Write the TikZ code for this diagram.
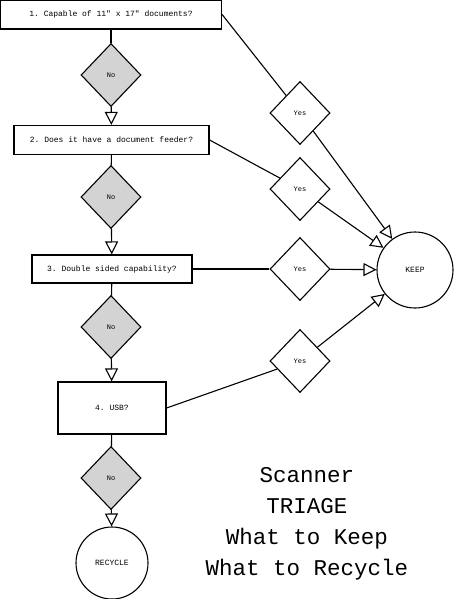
\documentclass[tikz,border=0pt]{standalone}
\usepackage{fontspec}
\setmonofont{Liberation Mono}
\usetikzlibrary{arrows.meta, shapes.geometric}
\definecolor{triageGray}{HTML}{D3D3D3}
\definecolor{lineDark}{HTML}{000000}

\begin{document}
\begin{tikzpicture}[x=1pt, y=-1pt, font=\ttfamily\fontsize{8}{9}\selectfont,
    questionBox/.style={draw=lineDark, line width=1.2pt, fill=white, inner sep=0pt},
    noDiamond/.style={diamond, draw=lineDark, line width=1.1pt, fill=triageGray, inner sep=0pt,
      minimum width=60pt, minimum height=63pt, font=\ttfamily\fontsize{7}{8}\selectfont},
    yesDiamond/.style={noDiamond, fill=white},
    endCircle/.style={circle, draw=lineDark, line width=1.1pt, fill=white, inner sep=0pt},
    flowLine/.style={draw=lineDark, line width=1.1pt},
    flowArrow/.style={flowLine, -{Triangle[open, length=13pt, width=13pt, line width=1.1pt]}}]
    \useasboundingbox (0,0) rectangle (455,599);

    % question column
    \node[questionBox, minimum width=221pt, minimum height=29pt] (q1) at (111,14.5) {1. Capable of 11" x 17" documents?};
    \node[noDiamond] (no1) at (111,75) {No};
    \node[questionBox, minimum width=195pt, minimum height=29pt] (q2) at (111.5,140) {2. Does it have a document feeder?};
    \node[noDiamond] (no2) at (111,197) {No};
    \node[questionBox, minimum width=160pt, minimum height=28pt] (q3) at (112,269) {3. Double sided capability?};
    \node[noDiamond] (no3) at (111,327) {No};
    \node[questionBox, minimum width=108pt, minimum height=52pt] (q4) at (112,408) {4. USB?};
    \node[noDiamond] (no4) at (111,478) {No};
    \node[endCircle, minimum size=72pt] (recycle) at (112,563) {RECYCLE};

    % answer column
    \node[yesDiamond] (yes1) at (300,113) {Yes};
    \node[yesDiamond] (yes2) at (300,189) {Yes};
    \node[yesDiamond] (yes3) at (300,269) {Yes};
    \node[yesDiamond] (yes4) at (300,361) {Yes};
    \node[endCircle, minimum size=76pt] (keep) at (415,270) {KEEP};

    \draw[flowLine] (q1) -- (no1);
    \draw[flowArrow] (no1) -- (q2);
    \draw[flowLine] (q2) -- (no2);
    \draw[flowArrow] (no2) -- (q3);
    \draw[flowLine] (q3) -- (no3);
    \draw[flowArrow] (no3) -- (q4);
    \draw[flowLine] (q4) -- (no4);
    \draw[flowArrow] (no4) -- (recycle);

    \draw[flowLine] (q1.east) -- (yes1);
    \draw[flowArrow] (yes1) -- (keep);
    \draw[flowLine] (q2.east) -- (yes2);
    \draw[flowArrow] (yes2) -- (keep);
    \draw[flowLine] (q3.east) -- (yes3);
    \draw[flowArrow] (yes3) -- (keep);
    \draw[flowLine] (q4.east) -- (yes4);
    \draw[flowArrow] (yes4) -- (keep);

    \node[align=center, font=\ttfamily\fontsize{22.5}{31}\selectfont] (title) at (307,524)
      {Scanner\\TRIAGE\\What to Keep\\What to Recycle};
  \end{tikzpicture}
\end{document}
